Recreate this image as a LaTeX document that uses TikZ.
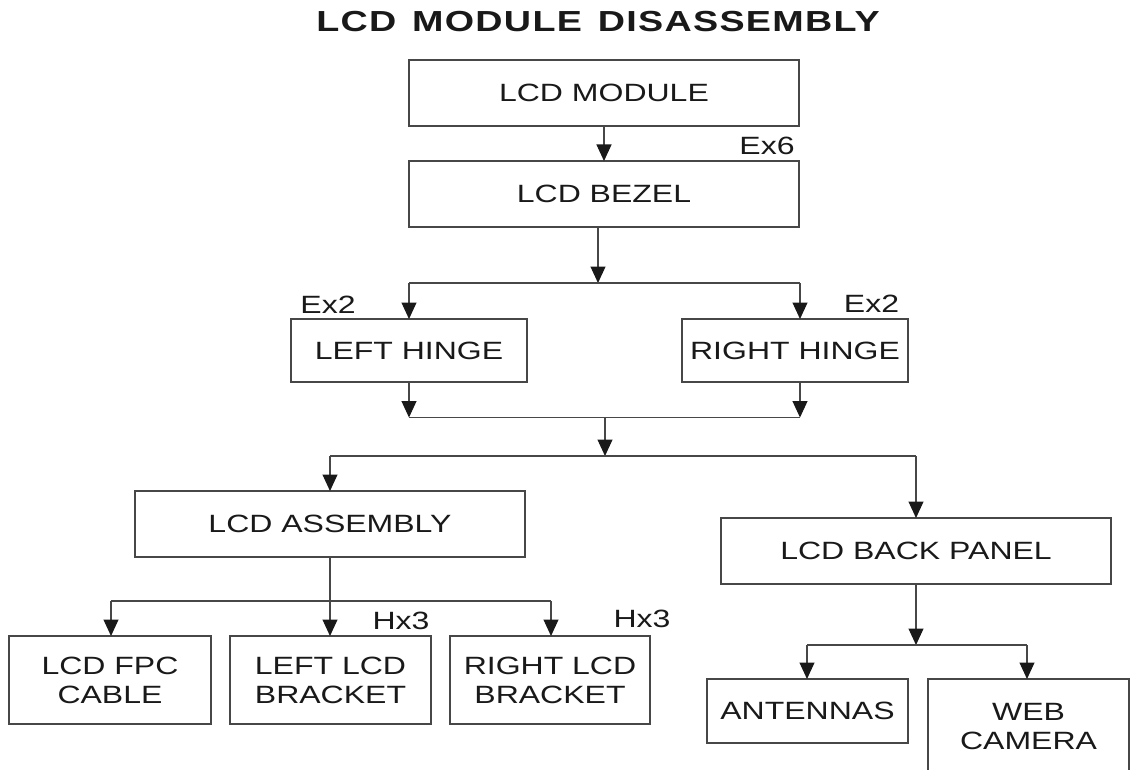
\documentclass[tikz,border=0pt]{standalone}
\usepackage{fontspec}
\setmainfont{Liberation Sans}
\newfontfamily\boxfont[FakeStretch=1.28]{Liberation Sans}
\newfontfamily\titlefont[FakeStretch=1.3,LetterSpace=4.5]{Liberation Sans Bold}
\usetikzlibrary{arrows.meta}
\begin{document}
\begin{tikzpicture}[x=1pt,y=-1pt,
  ln/.style={draw=black!72,line width=1.1pt},
  arr/.style={ln,-{Triangle[length=16.5pt,width=15pt,color=black!90]}},
  box/.style={draw=black!72,line width=1.1pt,rectangle,inner sep=0pt,outer sep=0pt,
    align=center,text=black!90,font=\boxfont\fontsize{25}{29}\selectfont},
  lbl/.style={inner sep=0pt,text=black!90,font=\boxfont\fontsize{25}{29}\selectfont}]
\useasboundingbox (0,0) rectangle (1130,770);
\node[inner sep=0pt,text=black!90,font=\titlefont\fontsize{29}{33}\selectfont] (title) at (598,21.5) {LCD\hspace{4pt} MODULE\hspace{4pt} DISASSEMBLY};
% boxes
\node[box,minimum width=390pt,minimum height=66pt] (module) at (604,93) {LCD MODULE};
\node[box,minimum width=390pt,minimum height=66pt] (bezel) at (604,194) {LCD BEZEL};
\node[box,minimum width=236pt,minimum height=63pt] (lhinge) at (409,350.5) {LEFT HINGE};
\node[box,minimum width=226pt,minimum height=63pt] (rhinge) at (795,350.5) {RIGHT HINGE};
\node[box,minimum width=390pt,minimum height=66pt] (assembly) at (330,524) {LCD ASSEMBLY};
\node[box,minimum width=390pt,minimum height=66pt] (panel) at (916,551) {LCD BACK PANEL};
\node[box,minimum width=202pt,minimum height=88pt] (fpc) at (110,680) {LCD FPC\\CABLE};
\node[box,minimum width=201pt,minimum height=88pt] (lbracket) at (330.5,680) {LEFT LCD\\BRACKET};
\node[box,minimum width=200pt,minimum height=88pt] (rbracket) at (550,680) {RIGHT LCD\\BRACKET};
\node[box,minimum width=201pt,minimum height=64pt] (antennas) at (807.5,711) {ANTENNAS};
\node[box,minimum width=201pt,minimum height=96pt] (webcam) at (1028.5,727) {WEB\\CAMERA};
% labels
\node[lbl] (ex6) at (767,146) {Ex6};
\node[lbl] (ex2l) at (328,305) {Ex2};
\node[lbl] (ex2r) at (871.5,304) {Ex2};
\node[lbl] (hx3l) at (401,620.5) {Hx3};
\node[lbl] (hx3r) at (642,619) {Hx3};
% junction coordinates
\coordinate (j1) at (598,283);
\coordinate (j1l) at (409,283);
\coordinate (j1r) at (800,283);
\coordinate (j2) at (605,417.5);
\coordinate (j2l) at (409,417.5);
\coordinate (j2r) at (800,417.5);
\coordinate (j3) at (605,456);
\coordinate (j3l) at (330,456);
\coordinate (j3r) at (916,456);
\coordinate (j4l) at (111,601);
\coordinate (j4r) at (551,601);
\coordinate (j5) at (916,645);
\coordinate (j5l) at (807,645);
\coordinate (j5r) at (1027,645);
% connectors
\draw[arr] (module) -- (bezel);
\draw[arr] (bezel.south -| j1) -- (j1);
\draw[ln] (j1l) -- (j1r);
\draw[arr] (j1l) -- (lhinge.north -| j1l);
\draw[arr] (j1r) -- (rhinge.north -| j1r);
\draw[arr] (lhinge.south -| j2l) -- (j2l);
\draw[arr] (rhinge.south -| j2r) -- (j2r);
\draw[ln] (j2l) -- (j2r);
\draw[arr] (j2) -- (j3);
\draw[ln] (j3l) -- (j3r);
\draw[arr] (j3l) -- (assembly.north -| j3l);
\draw[arr] (j3r) -- (panel.north -| j3r);
\draw[arr] (assembly.south) -- (assembly.south |- lbracket.north);
\draw[ln] (j4l) -- (j4r);
\draw[arr] (j4l) -- (fpc.north -| j4l);
\draw[arr] (j4r) -- (rbracket.north -| j4r);
\draw[arr] (panel.south -| j5) -- (j5);
\draw[ln] (j5l) -- (j5r);
\draw[arr] (j5l) -- (antennas.north -| j5l);
\draw[arr] (j5r) -- (webcam.north -| j5r);
\end{tikzpicture}
\end{document}
